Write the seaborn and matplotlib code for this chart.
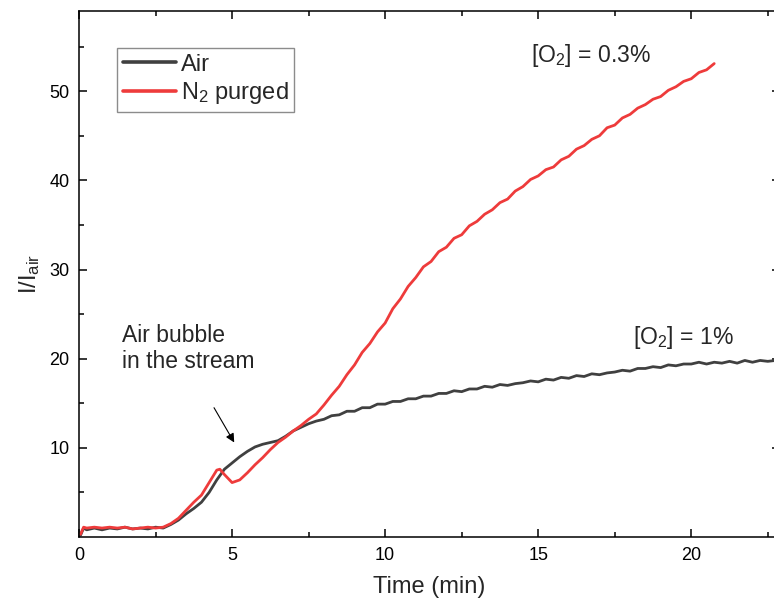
import matplotlib
matplotlib.use("Agg")
import matplotlib.pyplot as plt
import seaborn as sns
import pandas as pd

# ---- data ----
time_air = [0.05, 0.15, 0.25, 0.5, 0.75, 1.0, 1.25, 1.5, 1.75, 2.0, 2.25, 2.5, 2.75,
            3.0, 3.25, 3.5, 3.75, 4.0, 4.25, 4.5, 4.75, 5.0, 5.25, 5.5, 5.75, 6.0,
            6.25, 6.5, 6.75, 7.0, 7.25, 7.5, 7.75, 8.0, 8.25, 8.5, 8.75, 9.0, 9.25,
            9.5, 9.75, 10.0, 10.25, 10.5, 10.75, 11.0, 11.25, 11.5, 11.75, 12.0,
            12.25, 12.5, 12.75, 13.0, 13.25, 13.5, 13.75, 14.0, 14.25, 14.5, 14.75,
            15.0, 15.25, 15.5, 15.75, 16.0, 16.25, 16.5, 16.75, 17.0, 17.25, 17.5,
            17.75, 18.0, 18.25, 18.5, 18.75, 19.0, 19.25, 19.5, 19.75, 20.0, 20.25,
            20.5, 20.75, 21.0, 21.25, 21.5, 21.75, 22.0, 22.25, 22.5, 22.75]
air = [0.2, 1.0, 0.8, 1.0, 0.8, 1.0, 0.9, 1.1, 0.9, 1.0, 0.9, 1.1, 1.0,
       1.4, 1.9, 2.6, 3.2, 3.9, 5.0, 6.4, 7.6, 8.3, 9.0, 9.6, 10.1, 10.4,
       10.6, 10.8, 11.3, 11.9, 12.3, 12.7, 13.0, 13.2, 13.6, 13.7, 14.1, 14.1, 14.5,
       14.5, 14.9, 14.9, 15.2, 15.2, 15.5, 15.5, 15.8, 15.8, 16.1, 16.1,
       16.4, 16.3, 16.6, 16.6, 16.9, 16.8, 17.1, 17.0, 17.2, 17.3, 17.5,
       17.4, 17.7, 17.6, 17.9, 17.8, 18.1, 18.0, 18.3, 18.2, 18.4, 18.5,
       18.7, 18.6, 18.9, 18.9, 19.1, 19.0, 19.3, 19.2, 19.4, 19.4, 19.6,
       19.4, 19.6, 19.5, 19.7, 19.5, 19.8, 19.6, 19.8, 19.7, 19.8]

time_n2 = [0.05, 0.15, 0.25, 0.5, 0.75, 1.0, 1.25, 1.5, 1.75, 2.0, 2.25, 2.5, 2.75,
           3.0, 3.25, 3.5, 3.75, 4.0, 4.25, 4.5, 4.6, 4.75, 5.0, 5.25, 5.5, 5.75,
           6.0, 6.25, 6.5, 6.75, 7.0, 7.25, 7.5, 7.75, 8.0, 8.25, 8.5, 8.75, 9.0,
           9.25, 9.5, 9.75, 10.0, 10.25, 10.5, 10.75, 11.0, 11.25, 11.5, 11.75,
           12.0, 12.25, 12.5, 12.75, 13.0, 13.25, 13.5, 13.75, 14.0, 14.25, 14.5,
           14.75, 15.0, 15.25, 15.5, 15.75, 16.0, 16.25, 16.5, 16.75, 17.0, 17.25,
           17.5, 17.75, 18.0, 18.25, 18.5, 18.75, 19.0, 19.25, 19.5, 19.75, 20.0,
           20.25, 20.5, 20.75]
n2 = [0.3, 1.1, 1.0, 1.1, 1.0, 1.1, 1.0, 1.1, 0.9, 1.0, 1.1, 1.0, 1.1,
      1.5, 2.1, 3.0, 3.9, 4.7, 6.1, 7.5, 7.6, 7.0, 6.1, 6.4, 7.2, 8.1,
      8.9, 9.8, 10.6, 11.2, 11.9, 12.5, 13.2, 13.8, 14.8, 15.9, 16.9, 18.2, 19.3,
      20.7, 21.7, 23.0, 24.0, 25.6, 26.7, 28.1, 29.1, 30.3, 30.9, 32.0,
      32.5, 33.5, 33.9, 34.9, 35.4, 36.2, 36.7, 37.5, 37.9, 38.8, 39.3,
      40.1, 40.5, 41.2, 41.5, 42.3, 42.7, 43.5, 43.9, 44.6, 45.0, 45.9,
      46.2, 47.0, 47.4, 48.1, 48.5, 49.1, 49.4, 50.1, 50.5, 51.1, 51.4,
      52.1, 52.4, 53.1]

series_labels = ["Air", "N$_2$ purged"]
series_colors = ["#404040", "#ee3b3b"]
x_ticks = [0, 5, 10, 15, 20]
y_ticks = [10, 20, 30, 40, 50]

df = pd.concat([
    pd.DataFrame({"Time": time_air, "I": air, "Sample": series_labels[0]}),
    pd.DataFrame({"Time": time_n2, "I": n2, "Sample": series_labels[1]}),
], ignore_index=True)

sns.set_theme(style="ticks")
plt.rcParams["font.family"] = ["Liberation Sans", "DejaVu Sans"]
plt.rcParams["mathtext.default"] = "regular"

fig = plt.figure(figsize=(7.74, 6.03), dpi=100)
ax = fig.add_axes([0.1021, 0.1095, 0.9057, 0.8723])

sns.lineplot(data=df, x="Time", y="I", hue="Sample", palette=series_colors,
             hue_order=series_labels, estimator=None, sort=True, linewidth=2.0, ax=ax)

ax.set_xlim(0, 22.9)
ax.set_ylim(0, 59)
ax.set_xticks(x_ticks)
ax.set_yticks(y_ticks)
ax.set_xticks([2.5, 7.5, 12.5, 17.5, 22.5], minor=True)
ax.set_yticks([5, 15, 25, 35, 45, 55], minor=True)
ax.tick_params(which="both", direction="in", top=True, right=True, width=1.1,
               labelsize=13, colors="black", pad=7)
ax.tick_params(which="major", length=6)
ax.tick_params(which="minor", length=3.5)
for s in ax.spines.values():
    s.set_linewidth(1.1)
    s.set_color("black")

ax.set_xlabel("Time (min)", fontsize=17, labelpad=9)
ax.set_ylabel("I/I$_{air}$", fontsize=17, labelpad=5)

leg = ax.legend(loc="upper left", bbox_to_anchor=(0.054, 0.93), borderaxespad=0,
                fontsize=17, frameon=True, fancybox=False, framealpha=1,
                edgecolor="#8c8c8c", handlelength=2.25, handletextpad=0.2,
                borderpad=0.25, labelspacing=0.2, title=None)
leg.get_frame().set_linewidth(1.0)
for line in leg.get_lines():
    line.set_linewidth(2.6)

ax.text(14.76, 53.3, "[O$_2$] = 0.3%", fontsize=16.5, ha="left", va="baseline")
ax.text(18.1, 21.7, "[O$_2$] = 1%", fontsize=16.5, ha="left", va="baseline")
ax.text(1.4, 23.9, "Air bubble\nin the stream", fontsize=16.5, ha="left", va="top",
        linespacing=1.15)
ax.annotate("", xy=(5.07, 10.6), xytext=(4.41, 14.5),
            arrowprops=dict(arrowstyle="-|>", color="black", lw=0.8,
                            mutation_scale=13, shrinkA=0, shrinkB=0))

fig.savefig("out.png", dpi=100)
